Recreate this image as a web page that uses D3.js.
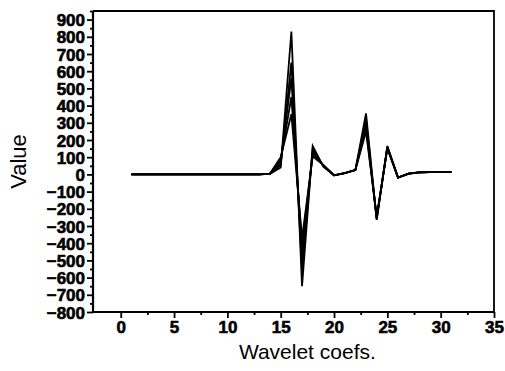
<!DOCTYPE html>
<html>
<head>
<meta charset="utf-8">
<script src="https://cdn.jsdelivr.net/npm/d3@7.9.0/dist/d3.min.js"></script>
<style>
  body { margin: 0; background: #fff; }
  svg { display: block; }
</style>
</head>
<body>
<svg id="chart" width="505" height="371"></svg>
<script>
// wavelet coefficient index
const coefs = d3.range(1, 32);

// several overlapping spectra
const zeros13 = new Array(13).fill(0);
const seriesA = [...zeros13, 3, 40, 830, -650, 165, 45, -5, 8, 25, 355, -265, 165, -18, 5, 12, 13, 13, 14];
const seriesB = [...zeros13, 3, 55, 650, -560, 150, 48, -5, 8, 25, 320, -260, 160, -18, 5, 12, 13, 13, 14];
const seriesC = [...zeros13, 4, 70, 560, -480, 135, 50, -5, 8, 25, 290, -255, 158, -18, 5, 12, 13, 13, 14];
const seriesD = [...zeros13, 5, 85, 450, -420, 120, 52, -5, 8, 25, 270, -250, 155, -18, 5, 12, 13, 13, 14];
const seriesE = [...zeros13, 5, 100, 350, -370, 105, 55, -5, 8, 25, 250, -245, 150, -18, 5, 12, 13, 13, 14];
const allSeries = [seriesA, seriesB, seriesC, seriesD, seriesE];

const xTicks = [0, 5, 10, 15, 20, 25, 30, 35];
const yTicks = d3.range(-800, 901, 100);

const font = 'Arial, "Liberation Sans", sans-serif';
const svg = d3.select('#chart');
const margin = { top: 11, right: 11, bottom: 59, left: 93 };
const width = 505 - margin.left - margin.right;
const height = 371 - margin.top - margin.bottom;

const x = d3.scaleLinear().domain([-2.6, 35]).range([0, width]);
const y = d3.scaleLinear().domain([-800, 950]).range([height, 0]);

const g = svg.append('g').attr('transform', `translate(${margin.left},${margin.top})`);

// frame top and right
g.append('path')
  .attr('d', `M0,0H${width}V${height}`)
  .attr('fill', 'none')
  .attr('stroke', '#000')
  .attr('stroke-width', 1.8);

// lines
const line = d3.line().x((d, i) => x(coefs[i])).y(d => y(d));
g.selectAll('.series')
  .data(allSeries)
  .join('path')
  .attr('class', 'series')
  .attr('d', line)
  .attr('fill', 'none')
  .attr('stroke', '#000')
  .attr('stroke-width', 1.8)
  .attr('stroke-linejoin', 'miter');

// minor ticks
const xAxisMinor = d3.axisBottom(x).tickValues(d3.range(2.5, 35, 5)).tickSize(3).tickFormat('');
const yAxisMinor = d3.axisLeft(y).tickValues(d3.range(-750, 951, 100)).tickSize(3).tickFormat('');
g.append('g').attr('transform', `translate(0,${height})`).call(xAxisMinor)
  .call(a => a.select('.domain').remove());
g.append('g').call(yAxisMinor).call(a => a.select('.domain').remove());

// major axes
const xAxis = d3.axisBottom(x).tickValues(xTicks).tickSize(6).tickPadding(3);
const yAxis = d3.axisLeft(y).tickValues(yTicks).tickSize(6).tickPadding(2);

const gx = g.append('g').attr('transform', `translate(0,${height})`).call(xAxis);
const gy = g.append('g').call(yAxis);

[gx, gy].forEach(a => {
  a.select('.domain').remove();
  a.selectAll('text')
    .style('font-family', font)
    .style('font-size', '17px')
    .style('font-weight', '700')
    .attr('fill', '#000')
    .attr('stroke', '#000')
    .attr('stroke-width', 0.6);
});
gy.selectAll('text').attr('dy', '0.36em');
g.selectAll('.tick line').attr('stroke', '#000').attr('stroke-width', 1.8);

// axis lines
g.append('path')
  .attr('d', `M0,0V${height}H${width}`)
  .attr('fill', 'none')
  .attr('stroke', '#000')
  .attr('stroke-width', 2.2);

// titles
svg.append('text')
  .attr('x', margin.left + x(17.5))
  .attr('y', 359)
  .attr('text-anchor', 'middle')
  .style('font-family', font)
  .style('font-size', '21px')
  .text('Wavelet coefs.');

svg.append('text')
  .attr('transform', `translate(26,${margin.top + height / 2}) rotate(-90)`)
  .attr('text-anchor', 'middle')
  .style('font-family', font)
  .style('font-size', '22px')
  .text('Value');
</script>
</body>
</html>
